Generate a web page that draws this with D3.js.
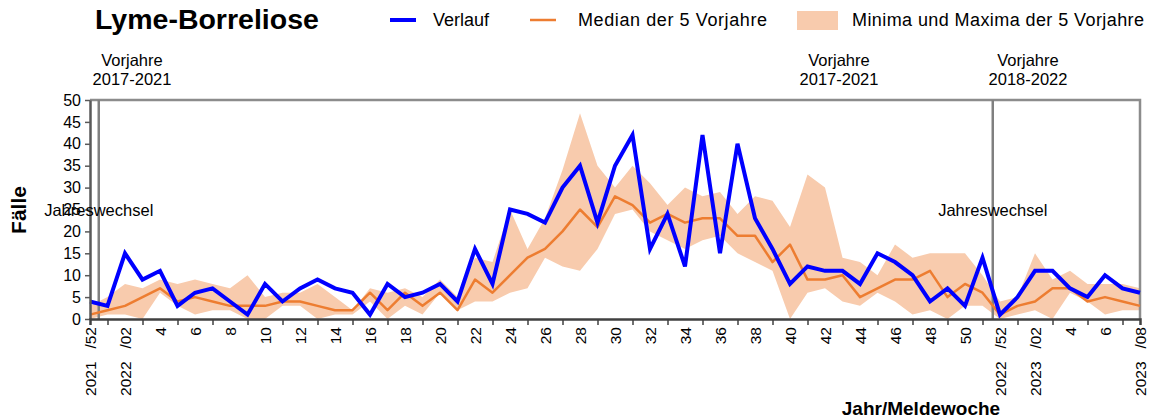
<!DOCTYPE html>
<html><head><meta charset="utf-8">
<script src="https://cdn.jsdelivr.net/npm/d3@7"></script>
<style>
body{margin:0;background:#fff;}
svg{display:block;font-family:"Liberation Sans",Arial,sans-serif;}
</style></head>
<body><svg id="c" width="1154" height="419"></svg>
<script>
const categories = ["2021/52",
 "2022/01","2022/02","2022/03","2022/04","2022/05","2022/06","2022/07","2022/08","2022/09","2022/10",
 "2022/11","2022/12","2022/13","2022/14","2022/15","2022/16","2022/17","2022/18","2022/19","2022/20",
 "2022/21","2022/22","2022/23","2022/24","2022/25","2022/26","2022/27","2022/28","2022/29","2022/30",
 "2022/31","2022/32","2022/33","2022/34","2022/35","2022/36","2022/37","2022/38","2022/39","2022/40",
 "2022/41","2022/42","2022/43","2022/44","2022/45","2022/46","2022/47","2022/48","2022/49","2022/50",
 "2022/51","2022/52",
 "2023/01","2023/02","2023/03","2023/04","2023/05","2023/06","2023/07","2023/08"];
const tickLabels = ["2021   /52","2022   /02","4","6","8","10","12","14","16","18","20","22","24","26","28","30",
 "32","34","36","38","40","42","44","46","48","50","2022   /52","2023   /02","4","6","2023   /08"];
const verlauf = [4,3,15,9,11,3,6,7,4,1,8,4,7,9,7,6,1,8,5,6,8,4,16,8,25,24,22,30,35,22,35,42,16,24,12,42,15,40,23,16,8,12,11,11,8,15,13,10,4,7,3,14,1,5,11,11,7,5,10,7,6];
const median = [1,2,3,5,7,4,5,4,3,3,3,4,4,3,2,2,6,2,6,3,6,2,9,6,10,14,16,20,25,21,28,26,22,24,22,23,23,19,19,13,17,9,9,10,5,7,9,9,11,5,8,6,1,3,4,7,7,4,5,4,3];
const maxima = [3,5,8,7,9,8,9,8,7,10,5,6,6,8,5,2,7,6,7,5,9,5,14,13,25,16,23,34,47,35,30,35,31,26,30,28,29,24,28,27,21,33,30,14,13,10,17,14,15,15,15,10,4,5,15,9,11,8,8,8,7];
const minima = [0,1,1,0,6,3,1,2,2,0,0,3,3,0,1,1,4,0,3,1,6,2,4,4,6,7,14,12,11,16,24,25,20,18,16,18,19,15,13,11,0,6,7,4,3,6,4,1,2,0,3,3,0,1,2,0,6,4,1,2,2];
const yTicks = [0,5,10,15,20,25,30,35,40,45,50];

const svg = d3.select("#c");
const L=90, R=1140, T=100, B=319;
const x = d3.scalePoint().domain(categories).range([L,R]);
const y = d3.scaleLinear().domain([0,50]).range([B,T]);
const step = x.step();

// band
svg.append("path").datum(categories.map((c,i)=>({c,lo:minima[i],hi:maxima[i]})))
  .attr("fill","#F8CBAD")
  .attr("d", d3.area().x(d=>x(d.c)).y0(d=>y(d.lo)).y1(d=>y(d.hi)));

// frame (top/right)
svg.append("path").attr("d",`M${L},${T}H${R}V${B}`).attr("fill","none").attr("stroke","#8c8c8c").attr("stroke-width",2.5);

// year-change lines
const yc1 = x(categories[0]) + step*0.5;
const yc2 = (x(categories[51]) + x(categories[52]))/2 + 1.5;
[yc1,yc2].forEach(v=>svg.append("line").attr("x1",v).attr("x2",v).attr("y1",T).attr("y2",B)
  .attr("stroke","#808080").attr("stroke-width",2.5));

// median
svg.append("path").datum(median).attr("fill","none").attr("stroke","#ED7D31").attr("stroke-width",2.5)
  .attr("stroke-linejoin","round")
  .attr("d", d3.line().x((d,i)=>x(categories[i])).y(d=>y(d)));
// verlauf
svg.append("path").datum(verlauf).attr("fill","none").attr("stroke","#0000FF").attr("stroke-width",4)
  .attr("stroke-linejoin","miter")
  .attr("d", d3.line().x((d,i)=>x(categories[i])).y(d=>y(d)));

// y axis
const ya = svg.append("g").attr("transform",`translate(${L},0)`)
  .call(d3.axisLeft(y).tickValues(yTicks).tickSize(5).tickSizeOuter(0).tickPadding(4));
ya.select(".domain").attr("stroke","#595959").attr("stroke-width",2.5);
ya.selectAll(".tick line").attr("stroke","#595959").attr("stroke-width",1.5);
ya.selectAll("text").attr("font-size",16).attr("fill","#000").attr("font-family","Liberation Sans, Arial, sans-serif");

// x axis ticks (between labels)
const oddCats = categories.filter((c,i)=>i%2===1);
const xa = svg.append("g").attr("transform",`translate(0,${B})`)
  .call(d3.axisBottom(x).tickValues(oddCats).tickFormat("").tickSize(6).tickSizeOuter(6));
xa.select(".domain").attr("stroke","#404040").attr("stroke-width",2.5);
xa.selectAll(".tick line").attr("stroke","#404040").attr("stroke-width",1.5);

// x labels
const evenCats = categories.filter((c,i)=>i%2===0);
const xl = svg.append("g").attr("transform",`translate(0,${B})`)
  .call(d3.axisBottom(x).tickValues(evenCats).tickFormat((c,i)=>tickLabels[i]).tickSize(0));
xl.select(".domain").remove();
xl.selectAll("text").attr("font-size",15.5).attr("fill","#000").attr("font-family","Liberation Sans, Arial, sans-serif")
  .style("white-space","pre")
  .attr("text-anchor","end").attr("dy","0.35em").attr("y",0)
  .attr("transform","translate(0,8) rotate(-90)").attr("x",0);

// annotations
const ann = svg.append("g").attr("font-size",16.5).attr("fill","#000").attr("text-anchor","middle");
[[132,"Vorjahre","2017-2021"],[839,"Vorjahre","2017-2021"],[1028,"Vorjahre","2018-2022"]].forEach(a=>{
  ann.append("text").attr("x",a[0]).attr("y",66).text(a[1]);
  ann.append("text").attr("x",a[0]).attr("y",85).text(a[2]);
});
ann.append("text").attr("x",yc1).attr("y",216).text("Jahreswechsel");
ann.append("text").attr("x",yc2).attr("y",216).text("Jahreswechsel");

// title
svg.append("text").attr("x",95).attr("y",29).attr("font-size",28.5).attr("font-weight","bold").text("Lyme-Borreliose");

// legend
const lg = svg.append("g").attr("font-size",18);
lg.append("line").attr("x1",390).attr("x2",416).attr("y1",20).attr("y2",20).attr("stroke","#0000FF").attr("stroke-width",4);
lg.append("text").attr("x",433).attr("y",26).text("Verlauf");
lg.append("line").attr("x1",530).attr("x2",556).attr("y1",20).attr("y2",20).attr("stroke","#ED7D31").attr("stroke-width",2.5);
lg.append("text").attr("x",578).attr("y",26).attr("textLength",189).text("Median der 5 Vorjahre");
lg.append("rect").attr("x",797).attr("y",11).attr("width",41).attr("height",19).attr("fill","#F8CBAD");
lg.append("text").attr("x",852).attr("y",26).attr("textLength",292).text("Minima und Maxima der 5 Vorjahre");

// axis titles
svg.append("text").attr("transform","translate(26,210) rotate(-90)").attr("text-anchor","middle")
  .attr("font-size",21).attr("font-weight","bold").text("Fälle");
svg.append("text").attr("x",921).attr("y",415).attr("text-anchor","middle")
  .attr("font-size",19).attr("font-weight","bold").text("Jahr/Meldewoche");
</script></body></html>
